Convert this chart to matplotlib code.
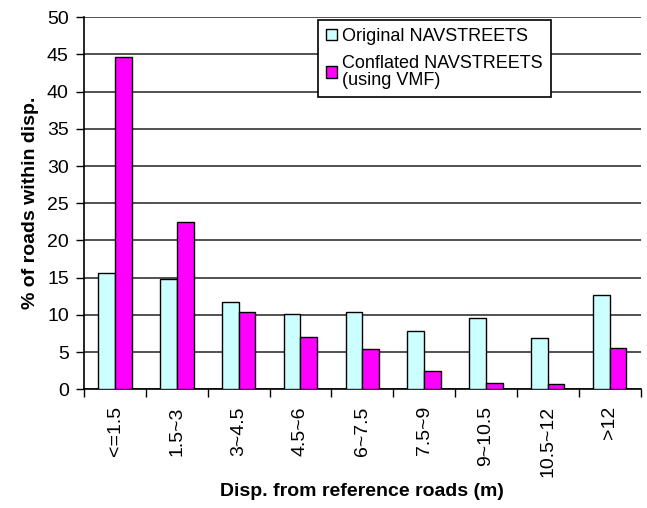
import numpy as np
import matplotlib
matplotlib.use('Agg')
import matplotlib.pyplot as plt

plt.rcParams['font.family'] = ['Liberation Sans', 'DejaVu Sans']

categories = ['<=1.5', '1.5~3', '3~4.5', '4.5~6', '6~7.5', '7.5~9', '9~10.5', '10.5~12', '>12']
original = [15.7, 14.8, 11.8, 10.2, 10.4, 7.8, 9.6, 6.9, 12.7]
conflated = [44.6, 22.5, 10.4, 7.1, 5.5, 2.5, 0.9, 0.7, 5.6]

fig = plt.figure(figsize=(6.47, 5.08), dpi=100)
ax = fig.add_axes([0.130, 0.2333, 0.860, 0.7332])

x = np.arange(len(categories))
w = 0.27
ax.bar(x - w / 2, original, w, color='#CCFFFF', edgecolor='black', linewidth=1,
       label='Original NAVSTREETS', zorder=3)
ax.bar(x + w / 2, conflated, w, color='#FF00FF', edgecolor='black', linewidth=1,
       label='Conflated NAVSTREETS\n(using VMF)', zorder=3)

ax.set_xlim(-0.5, len(categories) - 0.5)
ax.set_ylim(0, 50)
ax.set_yticks(np.arange(0, 51, 5))
ax.yaxis.grid(True, color='#333333', linewidth=1.2, zorder=0)

ax.set_xticks(x)
ax.set_xticklabels(categories, rotation=90, fontsize=14)
ax.tick_params(axis='x', which='major', length=0, pad=12)
ax.set_xticks(np.arange(-0.5, len(categories), 1), minor=True)
ax.tick_params(axis='x', which='minor', length=6, width=1)
ax.tick_params(axis='y', labelsize=14, length=6, width=1, pad=5)

for s in ['top', 'right']:
    ax.spines[s].set_visible(False)
for s in ['left', 'bottom']:
    ax.spines[s].set_linewidth(1.2)

ax.set_ylabel('% of roads within disp.', fontsize=14, fontweight='bold', labelpad=6)
ax.set_xlabel('Disp. from reference roads (m)', fontsize=14, fontweight='bold', labelpad=4)

leg = ax.legend(loc='upper left', bbox_to_anchor=(0.420, 0.993), fontsize=13,
                handlelength=0.6, handleheight=0.6, handletextpad=0.3,
                fancybox=False, framealpha=1, edgecolor='black', borderpad=0.45,
                labelspacing=0.55, borderaxespad=0)
leg.get_frame().set_linewidth(1.2)
leg.set_zorder(5)
for t in leg.get_texts():
    t.set_linespacing(1.0)

fig.savefig('out.png', dpi=100)
